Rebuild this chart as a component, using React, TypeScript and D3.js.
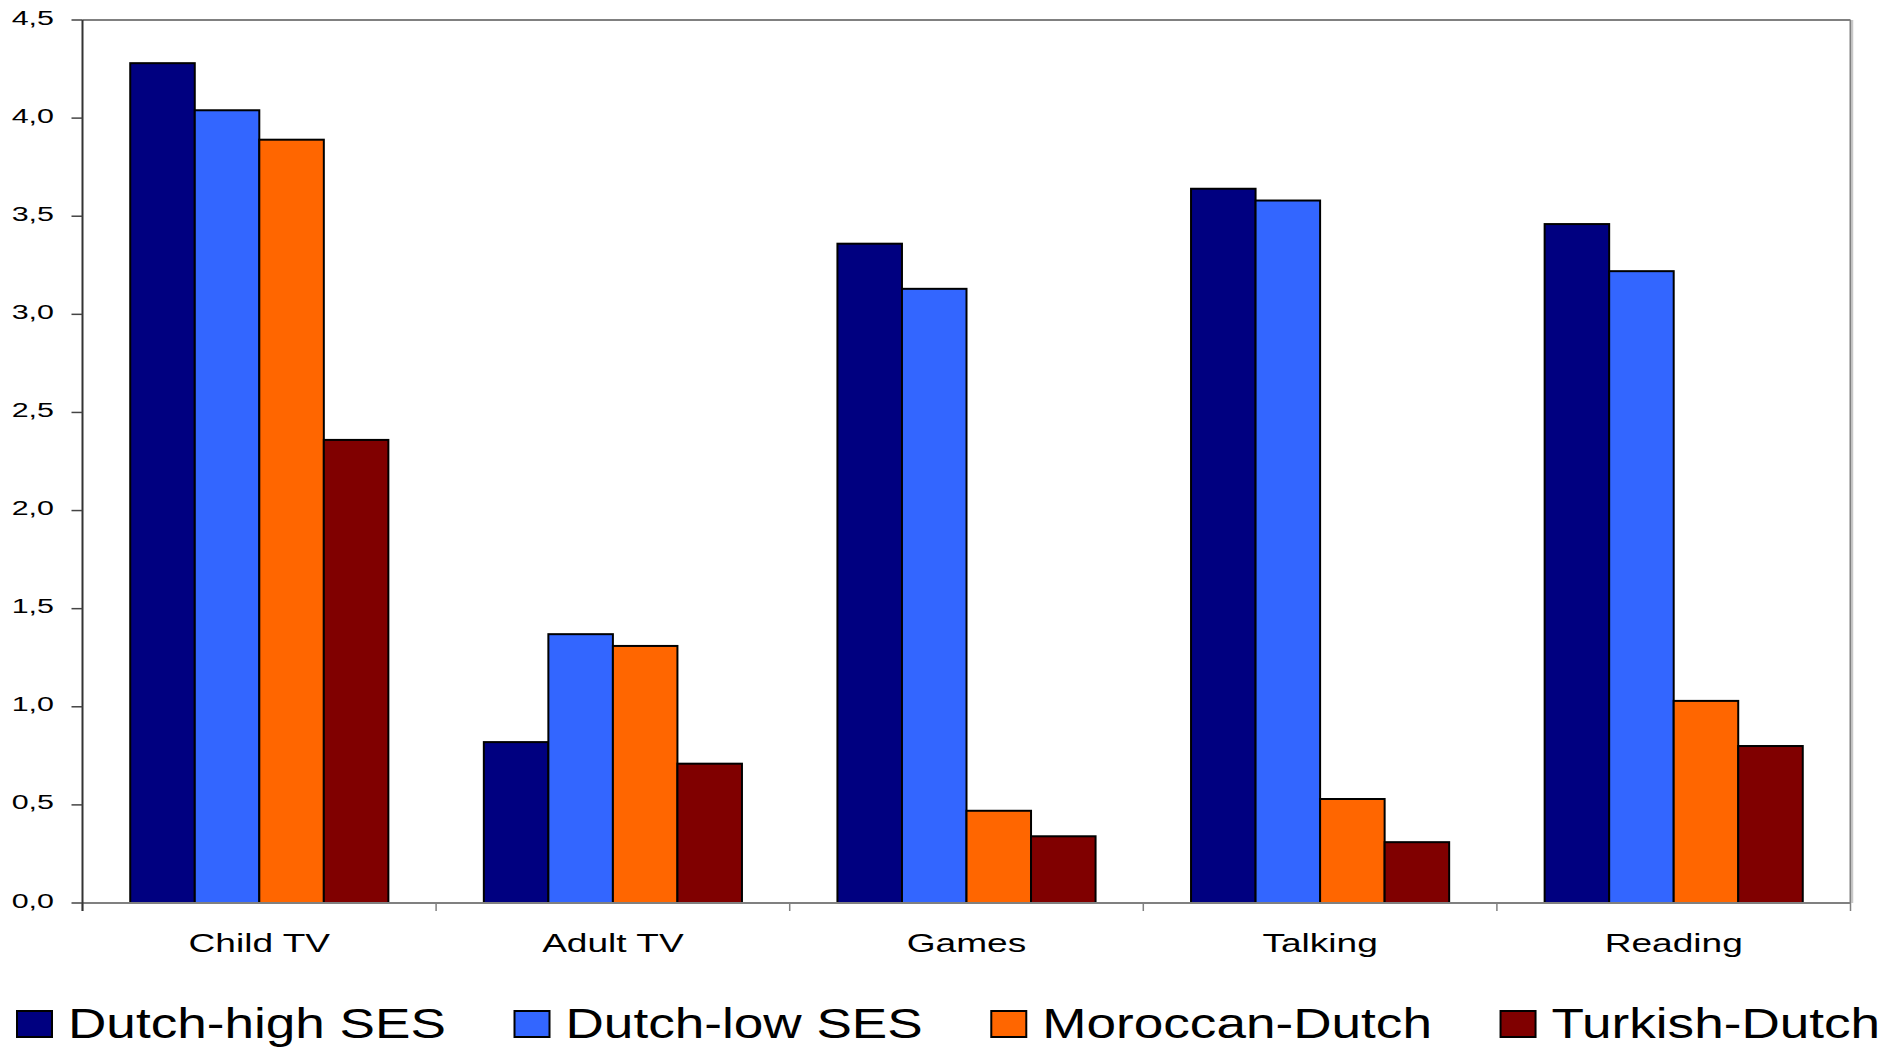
import React from "react";
import * as d3 from "d3";

const categories = ["Child TV", "Adult TV", "Games", "Talking", "Reading"];
const seriesNames = ["Dutch-high SES", "Dutch-low SES", "Moroccan-Dutch", "Turkish-Dutch"];
const dutchHigh = [4.28, 0.82, 3.36, 3.64, 3.46];
const dutchLow = [4.04, 1.37, 3.13, 3.58, 3.22];
const moroccanDutch = [3.89, 1.31, 0.47, 0.53, 1.03];
const turkishDutch = [2.36, 0.71, 0.34, 0.31, 0.8];
const seriesColors = ["#000080", "#3366FF", "#FF6600", "#800000"];
const yTicks = [0, 0.5, 1, 1.5, 2, 2.5, 3, 3.5, 4, 4.5];

const W = 1883;
const H = 1047;
const M = { left: 82.5, right: 1850.5, top: 20, bottom: 903 };
const FONT = "'Liberation Sans', Arial, Helvetica, sans-serif";

function measure(text: string, size: number): number {
  if (typeof document === "undefined") return text.length * size * 0.55;
  const c = document.createElement("canvas");
  const ctx = c.getContext("2d");
  if (!ctx) return text.length * size * 0.55;
  ctx.font = `${size}px "Liberation Sans", Arial, sans-serif`;
  return ctx.measureText(text).width;
}

export default function App() {
  const values = [dutchHigh, dutchLow, moroccanDutch, turkishDutch];
  const x0 = d3.scaleBand<string>().domain(categories).range([M.left, M.right]).paddingInner(0.27).paddingOuter(0.135);
  const x1 = d3.scaleBand<string>().domain(seriesNames).range([0, x0.bandwidth()]).padding(0);
  const y = d3.scaleLinear().domain([0, 4.5]).range([M.bottom, M.top]);
  const fmt = (v: number) => d3.format(".1f")(v).replace(".", ",");
  const step = x0.step();
  const boundaries = d3.range(categories.length + 1).map((i) => M.left + i * step);

  const tickSize = 21, tickSx = 1.45;
  const catSize = 26.5, catSx = 1.4;
  const legSize = 42, legSx = 1.265;
  const swW = 35, swH = 26, textOff = 51, itemGap = 68.5;
  const legBase = 1038;

  const legendItems: { name: string; color: string; x: number }[] = [];
  let lx = 17;
  seriesNames.forEach((name, i) => {
    legendItems.push({ name, color: seriesColors[i], x: lx });
    lx += textOff + measure(name, legSize) * legSx + itemGap;
  });

  return (
    <svg width={W} height={H} style={{ position: "absolute", left: 0, top: 0, background: "#fff" }}>
      <rect x={0} y={0} width={W} height={H} fill="#fff" />
      {/* plot frame */}
      <line x1={M.left} x2={M.right} y1={M.top} y2={M.top} stroke="#808080" strokeWidth={2} />
      <line x1={M.right} x2={M.right} y1={M.top} y2={M.bottom} stroke="#808080" strokeWidth={2} />
      <line x1={M.right + 2} x2={M.right + 2} y1={M.top} y2={M.bottom} stroke="#c8c8c8" strokeWidth={1.5} />
      {/* bars */}
      {categories.map((cat, ci) => (
        <g key={cat}>
          {seriesNames.map((s, si) => {
            const v = values[si][ci];
            const bx = (x0(cat) as number) + (x1(s) as number);
            return (
              <rect
                key={s}
                x={bx}
                y={y(v)}
                width={x1.bandwidth()}
                height={y(0) - y(v)}
                fill={seriesColors[si]}
                stroke="#000"
                strokeWidth={2}
              />
            );
          })}
        </g>
      ))}
      {/* x axis */}
      <line x1={M.left} x2={M.right} y1={M.bottom} y2={M.bottom} stroke="#808080" strokeWidth={2} />
      {boundaries.map((bx, i) => (
        <line key={i} x1={bx} x2={bx} y1={M.bottom} y2={M.bottom + 8} stroke="#808080" strokeWidth={1.5} />
      ))}
      {/* y axis */}
      <line x1={M.left} x2={M.left} y1={M.top} y2={M.bottom + 8} stroke="#333" strokeWidth={2} />
      {yTicks.map((t) => (
        <g key={t}>
          <line x1={M.left - 11} x2={M.left} y1={y(t)} y2={y(t)} stroke="#444" strokeWidth={1.5} />
          <text
            transform={`translate(54, ${y(t) + 4.5}) scale(${tickSx},1)`}
            textAnchor="end"
            fontFamily={FONT}
            fontSize={tickSize}
            fill="#000"
          >
            {fmt(t)}
          </text>
        </g>
      ))}
      {categories.map((cat) => (
        <text
          key={cat}
          transform={`translate(${(x0(cat) as number) + x0.bandwidth() / 2}, 952) scale(${catSx},1)`}
          textAnchor="middle"
          fontFamily={FONT}
          fontSize={catSize}
          fill="#000"
        >
          {cat}
        </text>
      ))}
      {/* legend */}
      {legendItems.map((it) => (
        <g key={it.name}>
          <rect x={it.x} y={legBase - 27} width={swW} height={swH} fill={it.color} stroke="#000" strokeWidth={2} />
          <text
            transform={`translate(${it.x + textOff}, ${legBase}) scale(${legSx},1)`}
            fontFamily={FONT}
            fontSize={legSize}
            fill="#000"
          >
            {it.name}
          </text>
        </g>
      ))}
    </svg>
  );
}
